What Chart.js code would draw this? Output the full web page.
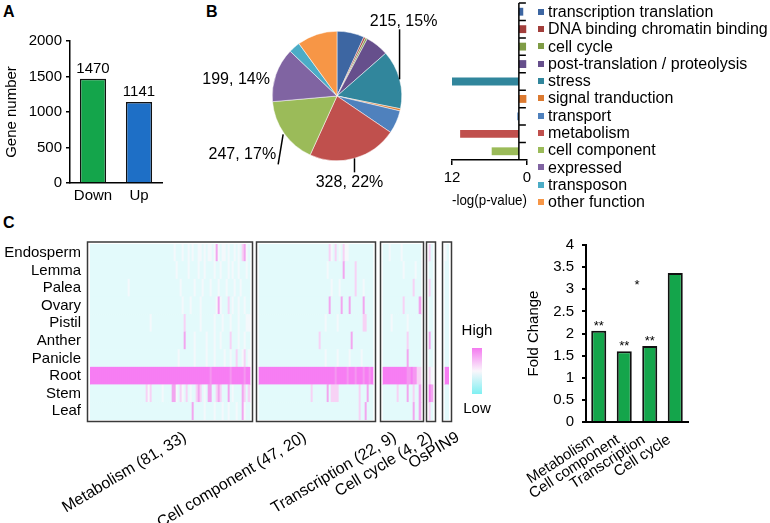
<!DOCTYPE html>
<html>
<head>
<meta charset="utf-8">
<script src="https://cdn.jsdelivr.net/npm/chart.js@4.4.1/dist/chart.umd.min.js"></script>
<style>
  body { margin: 0; background: #fff; width: 770px; height: 523px; position: relative; overflow: hidden; font-family: 'Liberation Sans', Arial, sans-serif; }
  canvas { position: absolute; }
  .tag { position: absolute; font-weight: bold; font-size: 16px; color: #000; }
  #funcKey { position: absolute; left: 538px; top: 3px; font-size: 16px; color: #000; white-space: nowrap; }
  #funcKey div { height: 17.3px; line-height: 17.3px; }
  #funcKey span { display: inline-block; width: 6px; height: 6px; margin-right: 4px; vertical-align: middle; position: relative; top: -1px; }
</style>
</head>
<body>
<div class="tag" style="left:3px;top:3px">A</div>
<div class="tag" style="left:206px;top:3px">B</div>
<div class="tag" style="left:3px;top:214px">C</div>
<canvas id="chartA" width="200" height="215" style="left:0;top:0"></canvas>
<canvas id="chartPie" width="240" height="210" style="left:200px;top:0"></canvas>
<canvas id="chartP" width="110" height="215" style="left:430px;top:0"></canvas>
<div id="funcKey"></div>
<canvas id="chartHeat" width="500" height="308" style="left:0;top:215px"></canvas>
<canvas id="chartFold" width="280" height="303" style="left:490px;top:220px"></canvas>
<script>
// ---- panel A: number of genes ----
const regLabels = ['Down', 'Up'];
const regCounts = [1470, 1141];
const regColors = ['#14a54b', '#1e6fc6'];

// ---- panel B: functional classes ----
const funcLabels = ['transcription translation', 'DNA binding chromatin binding', 'cell cycle',
  'post-translation / proteolysis', 'stress', 'signal tranduction', 'transport', 'metabolism',
  'cell component', 'expressed', 'transposon', 'other function'];
const funcCounts = [100, 7, 7, 85, 215, 8, 85, 328, 247, 199, 42, 147];
const funcColors = ['#3d66a2', '#a23e3b', '#7f9c45', '#664f8c', '#31869c', '#dc7a30',
  '#4f81bd', '#c0504d', '#9bbb59', '#8064a2', '#4bacc6', '#f79646'];
const pieCalloutIdx = [4, 7, 8, 9];

// enrichment, -log(p), first nine classes
const enrichLabels = funcLabels.slice(0, 9);
const enrichValues = [0.6, 0, 0.15, 0, 12, 0.1, 1.55, 10.7, 5.65];
const pCut = 1.3;
const enrichTicks = [12, 0];

// ---- panel C: heatmap (one char per gene column) ----
const tissues = ['Endosperm', 'Lemma', 'Palea', 'Ovary', 'Pistil', 'Anther', 'Panicle', 'Root', 'Stem', 'Leaf'];
const blockNames = ['Metabolism (81, 33)', 'Cell component (47, 20)', 'Transcription (22, 9)', 'Cell cycle (4, 2)', 'OsPIN9'];
const heatMetabolism = [
  '..........' + '..........' + '..........' + '..........' + '..w...w..w.w..ww.w.w' + 'w.wPw.ww.w..w.w.pPw.',
  '..........' + '..........' + '..........' + '..........' + '...w.....w....w..w..' + '..w..w...w.w..w...w.',
  '..........' + '.........w' + '..........' + '..........' + '.....w......w...w...' + 'w...w...w...w..w....',
  '..........' + '..........' + '..........' + '..........' + '......w...w....w....' + '...wPw...p.w..w..w..',
  '..........' + '..........' + '..........' + 'w.........' + '.......p.......w....' + '..w...w...w...w...ww',
  '..........' + '..........' + '..........' + '..........' + '.......P....w.....w.' + '..w..w....p...w..w..',
  '..........' + '..........' + '..........' + '..........' + '....w.......w.....w.' + '..w....w..w..p..wp.w',
  'MMMMMMMMMM' + 'MMMMMMMMMM' + 'MMMMMMMMMM' + 'MMMMMMMMMM' + 'MMMMMMMMMMMMMMMMMMMM' + 'mMMMMMMMMMmMMMMMMmMM',
  '..........' + '..........' + '........pw' + 'p.....w...' + '.PPw.pw.p.w..pPp.w.P' + 'P..pPp...P.w....Pp.p',
  '..........' + '..........' + '..........' + '..........' + '...........P.....w..' + '..w...w..w...w..Pw..'
];
const heatCellComponent = [
  '..........' + '..........' + '..........' + '.....pw.p.w.pww............',
  '..........' + '..........' + '..........' + '....w.......P.....p........',
  '..........' + '..........' + '..........' + '......w...w.......p...w....',
  '..........' + '..........' + '..........' + '.....P.....P...P......P....',
  '..........' + '..........' + '..........' + '...w.....w............pp...',
  '..........' + '..........' + '..........' + 'p...............P..........',
  '..........' + '..........' + '..........' + '...w.....w.....w.....w.....',
  'MMMMMMMMMM' + 'MMMMMMMMMM' + 'MMMMMMMMMM' + 'MMMMMMMMmMMMMMmMMMmMMMmMMmM',
  '..........' + '..........' + '......p...' + '....P.pppp..........p...P..',
  '..........' + '..........' + '..........' + '....................p..P...'
];
const heatTranscription = [
  '...w.....w.........',
  '..........w.....w..',
  '...............p...',
  '..........p.......P',
  '....w.......w......',
  '............p......',
  '............P......',
  'MMMMMMMMMMMMmmMmmpp',
  '.......p....P..p..P',
  '...............P..P'
];
const heatCellCycle = ['p.', '..', 'p.', '..', '..', 'P.', '..', 'pw', 'MP', 'p.'];
const heatPIN9 = ['w.', '..', '..', '..', '..', '..', '..', 'MM', '..', '..'];
const heatShades = { '.': '#e3fafb', 'w': '#f4f8fb', 'p': '#f7d2f5', 'P': '#f2a6ef', 'm': '#f597f1', 'M': '#f77ef3' };

// ---- panel C: fold change ----
const foldLabels = ['Metabolism', 'Cell component', 'Transcription', 'Cell cycle'];
const foldValues = [2.06, 1.6, 1.72, 3.37];
const foldStars = ['**', '**', '**', ''];
const looseStar = { text: '*', x: 1.5, y: 3.0 };

Chart.defaults.font.family = "'Liberation Sans', Arial, sans-serif";
Chart.defaults.font.size = 15;
Chart.defaults.color = '#000';
const base = { responsive: false, animation: false, devicePixelRatio: 1 };
const noPlugins = { legend: { display: false }, tooltip: { enabled: false } };
const plain = v => String(v);

// value labels over the bars in A
const barValues = {
  id: 'barValues',
  afterDatasetsDraw(chart) {
    const { ctx } = chart;
    const ds = chart.data.datasets[0];
    ctx.save();
    ctx.font = "15px 'Liberation Sans', Arial";
    ctx.fillStyle = '#000';
    ctx.textAlign = 'center';
    ctx.textBaseline = 'alphabetic';
    chart.getDatasetMeta(0).data.forEach((bar, i) => ctx.fillText(String(ds.data[i]), bar.x, bar.y - 6));
    ctx.restore();
  }
};

new Chart(document.getElementById('chartA'), {
  type: 'bar',
  data: { labels: regLabels, datasets: [{ data: regCounts, backgroundColor: regColors, borderColor: '#111', borderWidth: 1.5, barPercentage: 0.57, categoryPercentage: 1 }] },
  options: {
    ...base,
    layout: { padding: { top: 41, right: 38 } },
    plugins: noPlugins,
    scales: {
      x: { grid: { display: false, drawTicks: false }, border: { color: '#000', width: 1.5 }, ticks: { padding: 4 }, afterFit: s => { s.height = 32; } },
      y: {
        min: 0, max: 2000, ticks: { stepSize: 500, padding: 4, callback: plain },
        grid: { drawOnChartArea: false, tickLength: 4, color: '#000', lineWidth: 1.5 },
        border: { color: '#000', width: 1.5 },
        title: { display: true, text: 'Gene number', padding: { top: 3, bottom: 0 } },
        afterFit: s => { s.width = 70; }
      }
    }
  },
  plugins: [barValues]
});

// callouts for the big slices
const pieCallouts = {
  id: 'pieCallouts',
  afterDatasetsDraw(chart) {
    const { ctx } = chart;
    const meta = chart.getDatasetMeta(0);
    const total = funcCounts.reduce((a, b) => a + b, 0);
    // offsets from the rim point: [line from, line to, text anchor, align]
    const place = {
      4: [[0, 0], [0, -50], [4, -58], 'center'],
      7: [[0, 0], [0, 14], [-5, 24], 'center'],
      8: [[-1, 1], [-6, 31], [-8, 21], 'right'],
      9: [null, null, [-6, 5], 'right']
    };
    ctx.save();
    ctx.font = "16px 'Liberation Sans', Arial";
    ctx.fillStyle = '#000';
    ctx.strokeStyle = '#000';
    ctx.lineWidth = 1.5;
    ctx.textBaseline = 'middle';
    pieCalloutIdx.forEach(i => {
      const arc = meta.data[i];
      const mid = (arc.startAngle + arc.endAngle) / 2;
      const ex = arc.x + Math.cos(mid) * arc.outerRadius;
      const ey = arc.y + Math.sin(mid) * arc.outerRadius;
      const [a, b, t, align] = place[i];
      if (a) {
        ctx.beginPath();
        ctx.moveTo(ex + a[0], ey + a[1]);
        ctx.lineTo(ex + b[0], ey + b[1]);
        ctx.stroke();
      }
      ctx.textAlign = align;
      const pct = Math.round(funcCounts[i] / total * 100);
      ctx.fillText(funcCounts[i] + ', ' + pct + '%', ex + t[0], ey + t[1]);
    });
    ctx.restore();
  }
};

new Chart(document.getElementById('chartPie'), {
  type: 'pie',
  data: { labels: funcLabels, datasets: [{ data: funcCounts, backgroundColor: funcColors, borderColor: '#fff', borderWidth: 0.5 }] },
  options: { ...base, layout: { padding: { left: 72, right: 38, top: 31, bottom: 49 } }, plugins: noPlugins },
  plugins: [pieCallouts]
});

// shared key for the pie and the enrichment bars
const key = document.getElementById('funcKey');
funcLabels.forEach((t, i) => {
  const row = document.createElement('div');
  const sw = document.createElement('span');
  sw.style.background = funcColors[i];
  row.appendChild(sw);
  row.appendChild(document.createTextNode(t));
  key.appendChild(row);
});

// vertical axis crossing at the p = 0.05 cut
const cutAxis = {
  id: 'cutAxis',
  afterDatasetsDraw(chart) {
    const { ctx, chartArea: a, scales: { x } } = chart;
    const px = x.getPixelForValue(pCut);
    const step = (a.bottom - a.top) / enrichLabels.length;
    ctx.save();
    ctx.strokeStyle = '#000';
    ctx.lineWidth = 1.5;
    ctx.beginPath();
    ctx.moveTo(px, a.top);
    ctx.lineTo(px, a.bottom);
    for (let i = 0; i < enrichLabels.length; i++) {
      ctx.moveTo(px, a.top + i * step);
      ctx.lineTo(px + 7, a.top + i * step);
    }
    ctx.stroke();
    ctx.restore();
  }
};

new Chart(document.getElementById('chartP'), {
  type: 'bar',
  data: { labels: enrichLabels, datasets: [{ data: enrichValues.map(v => [pCut, v]), backgroundColor: funcColors.slice(0, 9), barPercentage: 0.45, categoryPercentage: 1 }] },
  options: {
    ...base,
    indexAxis: 'y',
    layout: { padding: { left: 22, top: 3, right: 13, bottom: 0 } },
    plugins: noPlugins,
    scales: {
      x: {
        reverse: true, min: 0, max: 12,
        afterBuildTicks: s => { s.ticks = enrichTicks.map(v => ({ value: v })); },
        grid: { drawOnChartArea: false, tickLength: 5, color: '#000', lineWidth: 1.5 },
        border: { color: '#000', width: 1.5 },
        ticks: { padding: 4 },
        title: { display: true, text: '-log(p-value)', padding: { top: 5, bottom: 5 } },
        afterFit: s => { s.height = 55; }
      },
      y: { display: false }
    }
  },
  plugins: [cutAxis]
});

// heatmap cells as floating bars
const heatBlocks = [heatMetabolism, heatCellComponent, heatTranscription, heatCellCycle, heatPIN9];
const blockGap = [4.5, 5, 4, 6];
const labelNudge = [7.5, -5.5, -3.5, 0, 5.5];
const heatCells = [];
const heatFill = [];
const blockSpans = [];
let col = 0;
heatBlocks.forEach((rows, b) => {
  const n = Math.max(...rows.map(r => r.length));
  rows.forEach((row, r) => {
    for (let c = 0; c < n; c++) {
      heatCells.push({ x: [col + c, col + c + 1], y: tissues[r] });
      heatFill.push(heatShades[row[c] || '.']);
    }
  });
  blockSpans.push([col, col + n]);
  col += n + (blockGap[b] || 0);
});
const heatMax = col;

const heatFrames = {
  id: 'heatFrames',
  afterDatasetsDraw(chart) {
    const { ctx, chartArea: a, scales: { x } } = chart;
    ctx.save();
    ctx.strokeStyle = '#3a3a3a';
    ctx.lineWidth = 1.5;
    blockSpans.forEach(([s, e]) => {
      const l = x.getPixelForValue(s) - 2.5;
      const r = x.getPixelForValue(e) + 2.5;
      ctx.strokeRect(l, a.top - 2, r - l, a.bottom - a.top + 3.5);
    });
    // colour key
    const g = ctx.createLinearGradient(0, 133, 0, 179);
    g.addColorStop(0, '#f47af0');
    g.addColorStop(0.5, '#faf6fb');
    g.addColorStop(1, '#7ff0f2');
    ctx.fillStyle = g;
    ctx.fillRect(472, 133, 10, 46);
    ctx.fillStyle = '#000';
    ctx.font = "15px 'Liberation Sans', Arial";
    ctx.textAlign = 'center';
    ctx.textBaseline = 'middle';
    ctx.fillText('High', 477, 116);
    ctx.fillText('Low', 477, 194);
    ctx.restore();
  }
};

new Chart(document.getElementById('chartHeat'), {
  type: 'bar',
  data: { labels: tissues, datasets: [{ data: heatCells, backgroundColor: heatFill, borderWidth: 0, barPercentage: 1, categoryPercentage: 1, grouped: false }] },
  options: {
    ...base,
    indexAxis: 'y',
    layout: { padding: { top: 29, right: 51 } },
    plugins: noPlugins,
    scales: {
      x: {
        type: 'linear', min: 0, max: heatMax,
        afterBuildTicks: s => { s.ticks = blockSpans.map((sp, i) => ({ value: (sp[0] + sp[1]) / 2 + labelNudge[i] })); },
        grid: { display: false, drawTicks: false }, border: { display: false },
        ticks: { autoSkip: false, minRotation: 31, maxRotation: 31, padding: 8, font: { size: 16 }, callback: (v, i) => blockNames[i] },
        afterFit: s => { s.height = 103; }
      },
      y: { grid: { display: false, drawTicks: false }, border: { display: false }, ticks: { autoSkip: false, padding: 9 }, afterFit: s => { s.width = 90; } }
    }
  },
  plugins: [heatFrames]
});

// significance marks
const starMarks = {
  id: 'starMarks',
  afterDatasetsDraw(chart) {
    const { ctx, scales: { x, y } } = chart;
    ctx.save();
    ctx.font = "13px 'Liberation Sans', Arial";
    ctx.fillStyle = '#000';
    ctx.textAlign = 'center';
    ctx.textBaseline = 'alphabetic';
    chart.getDatasetMeta(0).data.forEach((bar, i) => {
      if (foldStars[i]) ctx.fillText(foldStars[i], bar.x, bar.y - 1);
    });
    ctx.fillText(looseStar.text, x.getPixelForValue(looseStar.x), y.getPixelForValue(looseStar.y));
    ctx.restore();
  }
};

new Chart(document.getElementById('chartFold'), {
  type: 'bar',
  data: { labels: foldLabels, datasets: [{ data: foldValues, backgroundColor: '#14a54b', borderColor: '#111', borderWidth: 2, barPercentage: 0.59, categoryPercentage: 1 }] },
  options: {
    ...base,
    layout: { padding: { left: 35, top: 25, right: 82 } },
    plugins: noPlugins,
    scales: {
      x: {
        grid: { display: false, drawTicks: false }, border: { color: '#000', width: 2 },
        ticks: { autoSkip: false, minRotation: 33, maxRotation: 33, padding: 9, labelOffset: -6 },
        afterFit: s => { s.height = 101; }
      },
      y: {
        min: 0, max: 4, ticks: { stepSize: 0.5, padding: 8, callback: plain },
        grid: { drawOnChartArea: false, tickLength: 4, color: '#000', lineWidth: 2 },
        border: { color: '#000', width: 2 },
        title: { display: true, text: 'Fold Change', padding: 0 },
        afterFit: s => { s.width = 61; }
      }
    }
  },
  plugins: [starMarks]
});
</script>
</body>
</html>
